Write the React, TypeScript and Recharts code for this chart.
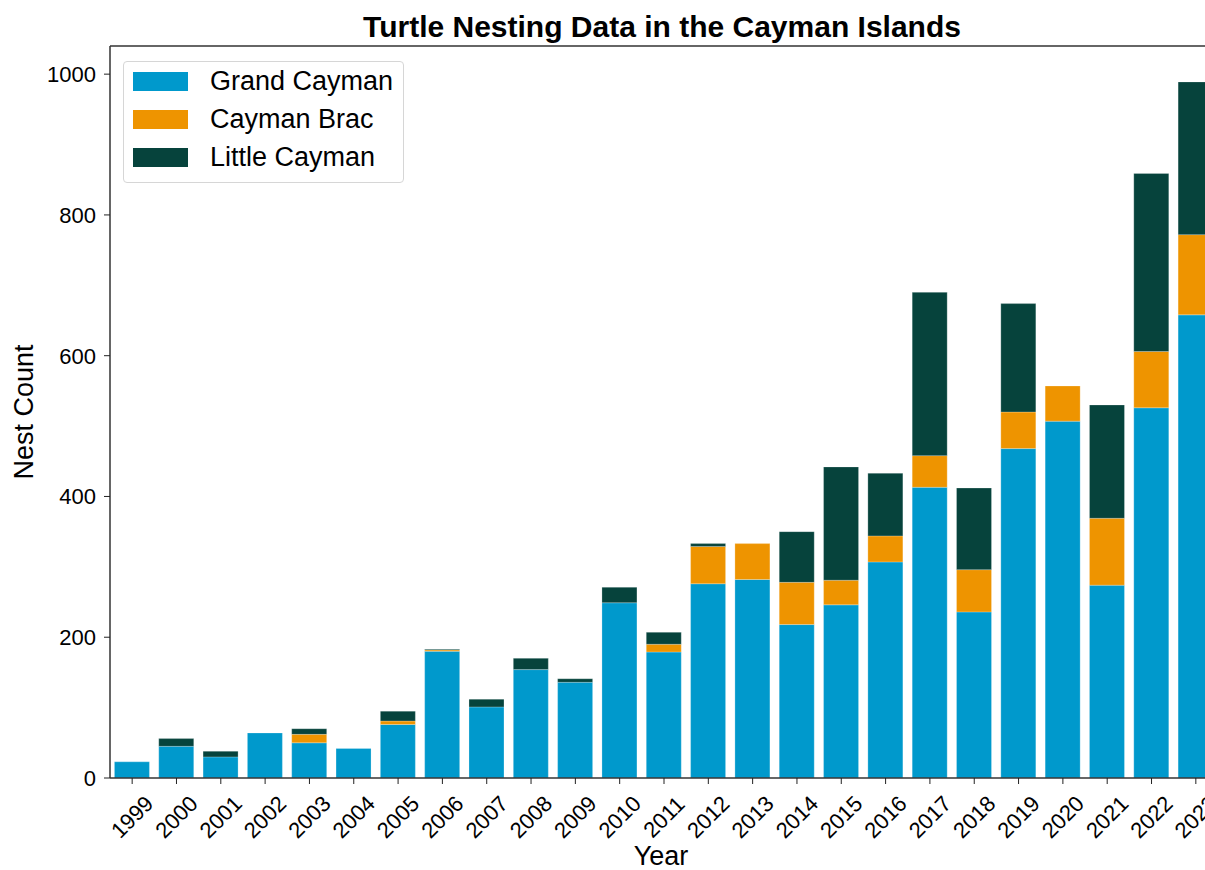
import React from "react";
import { BarChart, Bar, XAxis, YAxis, ReferenceLine } from "recharts";

const years = [
  "1999", "2000", "2001", "2002", "2003", "2004", "2005", "2006", "2007",
  "2008", "2009", "2010", "2011", "2012", "2013", "2014", "2015", "2016",
  "2017", "2018", "2019", "2020", "2021", "2022", "2023",
];
const grandCayman = [23, 45, 30, 64, 50, 42, 76, 180, 101, 154, 136, 249, 179, 276, 282, 218, 246, 307, 413, 236, 468, 507, 274, 526, 658];
const caymanBrac = [0, 0, 0, 0, 12, 0, 5, 2, 0, 0, 0, 0, 11, 53, 51, 60, 35, 37, 45, 60, 52, 50, 95, 80, 114];
const littleCayman = [0, 11, 8, 0, 8, 0, 14, 1, 11, 16, 5, 22, 17, 4, 0, 72, 161, 89, 232, 116, 154, 0, 161, 253, 217];
const yTicks = [0, 200, 400, 600, 800, 1000];

const series = [
  { key: "grand", name: "Grand Cayman", color: "#0099cc" },
  { key: "brac", name: "Cayman Brac", color: "#ee9400" },
  { key: "little", name: "Little Cayman", color: "#06433c" },
];

const data = years.map((y, i) => ({
  year: y,
  grand: grandCayman[i],
  brac: caymanBrac[i],
  little: littleCayman[i],
}));

const FONT = '"Liberation Sans", Arial, sans-serif';

function YearTick(props: any) {
  const { x, y, payload } = props;
  return (
    <g transform={`translate(${x},${y + 31}) rotate(-45)`}>
      <text
        textAnchor="middle"
        dominantBaseline="central"
        fontSize={22}
        fill="#000"
        fontFamily={FONT}
      >
        {payload.value}
      </text>
    </g>
  );
}

function LegendBox() {
  return (
    <div
      style={{
        position: "absolute",
        left: 123,
        top: 61,
        width: 279,
        height: 120,
        border: "1px solid #d6d6d6",
        borderRadius: 4,
        background: "rgba(255,255,255,0.8)",
        fontFamily: FONT,
        zIndex: 2,
      }}
    >
      {series.map((s, i) => (
        <div key={s.key}>
          <div
            style={{
              position: "absolute",
              left: 9,
              top: 10 + i * 38,
              width: 55,
              height: 19,
              background: s.color,
            }}
          />
          <div
            style={{
              position: "absolute",
              left: 86,
              top: 19 + i * 38 - 15,
              lineHeight: "30px",
              fontSize: 27,
              color: "#000",
              whiteSpace: "nowrap",
            }}
          >
            {s.name}
          </div>
        </div>
      ))}
    </div>
  );
}

export default function App() {
  return (
    <div
      style={{
        position: "relative",
        width: 1205,
        height: 870,
        overflow: "hidden",
        background: "#fff",
        fontFamily: FONT,
      }}
    >
      <style>{`body{margin:0;overflow:hidden}`}</style>
      <div
        style={{
          position: "absolute",
          left: 662,
          top: 10,
          transform: "translateX(-50%)",
          fontSize: 30,
          lineHeight: "34px",
          fontWeight: "bold",
          whiteSpace: "nowrap",
          color: "#000",
          zIndex: 2,
        }}
      >
        Turtle Nesting Data in the Cayman Islands
      </div>
      <LegendBox />
      <BarChart
        width={1230}
        height={870}
        data={data}
        margin={{ top: 46, right: 12, left: 0, bottom: 0 }}
        barCategoryGap="10%"
      >
        <XAxis
          dataKey="year"
          height={92}
          interval={0}
          tick={<YearTick />}
          tickLine={{ stroke: "#222" }}
          axisLine={{ stroke: "#333", strokeWidth: 1.5 }}
          label={{
            content: (p: any) => (
              <text
                x={p.viewBox.x + p.viewBox.width / 2 - 3}
                y={865}
                textAnchor="middle"
                fontSize={27}
                fill="#000"
                fontFamily={FONT}
              >
                Year
              </text>
            ),
          }}
        />
        <YAxis
          width={110}
          domain={[0, 1040]}
          ticks={yTicks}
          interval={0}
          tickMargin={8}
          tick={{ fontSize: 22, fill: "#000", fontFamily: FONT }}
          tickLine={{ stroke: "#222" }}
          axisLine={{ stroke: "#333", strokeWidth: 1.5 }}
          label={{
            content: (p: any) => (
              <text
                x={0}
                y={0}
                transform={`translate(33,${p.viewBox.y + p.viewBox.height / 2}) rotate(-90)`}
                textAnchor="middle"
                fontSize={27}
                fill="#000"
                fontFamily={FONT}
              >
                Nest Count
              </text>
            ),
          }}
        />
        <ReferenceLine y={1040} stroke="#333" strokeWidth={1.5} />
        {series.map((s) => (
          <Bar
            key={s.key}
            dataKey={s.key}
            name={s.name}
            stackId="a"
            fill={s.color}
            stroke="#ffffff"
            strokeOpacity={0.3}
            strokeWidth={0.8}
            isAnimationActive={false}
          />
        ))}
      </BarChart>
    </div>
  );
}
